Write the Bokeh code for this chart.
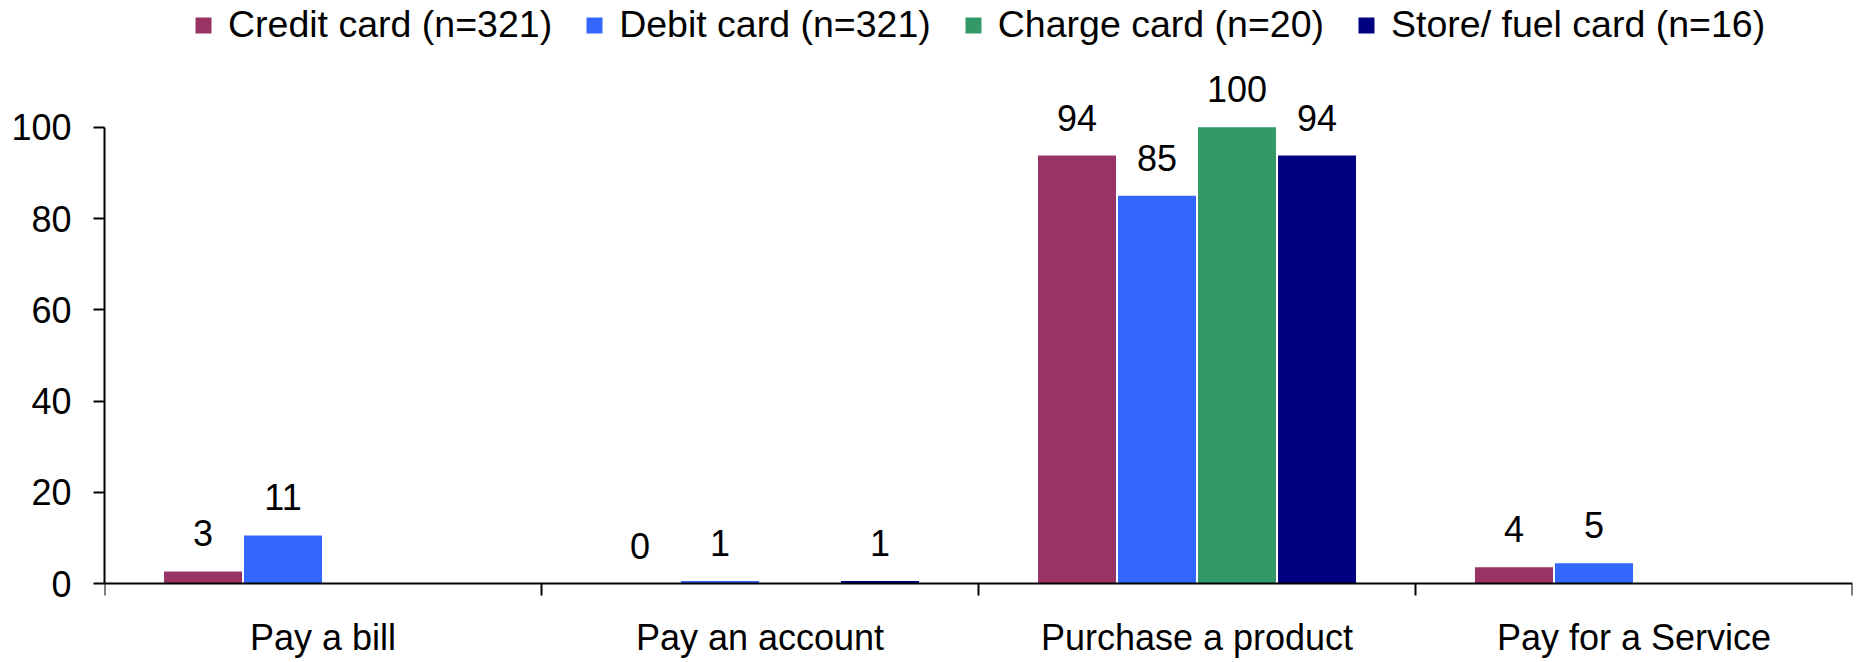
from bokeh.plotting import figure
from bokeh.models import (Range1d, LinearAxis, FixedTicker,
                          ColumnDataSource, Legend, LegendItem)
from bokeh.transform import dodge
from bokeh.core.properties import value
from bokeh.embed import file_html
from bokeh.resources import INLINE

# ---------------- data ----------------
categories = ["Pay a bill", "Pay an account", "Purchase a product", "Pay for a Service"]
series_names = ["Credit card (n=321)", "Debit card (n=321)",
                "Charge card (n=20)", "Store/ fuel card (n=16)"]
credit_card = [2.7, 0.0, 93.8, 3.6]
debit_card = [10.6, 0.6, 85.0, 4.5]
charge_card = [None, None, 100.0, None]
store_fuel_card = [None, 0.6, 93.8, None]
y_ticks = [0, 20, 40, 60, 80, 100]

series_values = [credit_card, debit_card, charge_card, store_fuel_card]
colors = ["#993366", "#3366FF", "#339966", "#000080"]
offsets = [-0.2746, -0.0915, 0.0915, 0.2746]
FONT = "Liberation Sans"

# category slot centres on a numeric axis (one unit per category)
centres = [i + 0.5 for i in range(len(categories))]
bounds = [float(i) for i in range(len(categories) + 1)]

p = figure(x_range=Range1d(0, len(categories)),
           y_range=Range1d(-17.24, 127.75),
           width=1856, height=662,
           output_backend="svg", toolbar_location=None,
           x_axis_location=None,
           min_border_left=104, min_border_right=4,
           min_border_top=0, min_border_bottom=0)
p.outline_line_color = None
p.grid.grid_line_color = None
p.background_fill_color = "white"
p.border_fill_color = "white"

legend_items = []
for name, vals, col, off in zip(series_names, series_values, colors, offsets):
    xs = [c for c, v in zip(centres, vals) if v is not None]
    vs = [v for v in vals if v is not None]
    labs = [str(int(v + 0.5)) for v in vs]
    src = ColumnDataSource(dict(pos=xs, val=vs, lab=labs))
    r = p.vbar(x=dodge("pos", off), top="val", width=0.1785,
               source=src, fill_color=col, line_color=None)
    p.text(x=dodge("pos", off), y="val", text="lab", source=src,
           text_align="center", text_baseline="alphabetic", y_offset=-38,
           text_font=value(FONT), text_font_size="36px", text_color="black")
    legend_items.append(LegendItem(label=name, renderers=[r]))

# y axis
ya = p.yaxis[0]
ya.ticker = FixedTicker(ticks=y_ticks)
ya.bounds = (0, 100)
ya.axis_line_width = 2
ya.axis_line_color = "black"
ya.major_tick_line_width = 2
ya.major_tick_line_color = "black"
ya.major_tick_out = 11
ya.major_tick_in = 0
ya.minor_tick_line_color = None
ya.major_label_standoff = 22
ya.major_label_text_font = FONT
ya.major_label_text_font_size = "36px"
ya.major_label_text_color = "black"

# x axis at y=0: labels at category centres, separator ticks at boundaries
xa = LinearAxis(ticker=FixedTicker(ticks=centres, minor_ticks=bounds),
                major_label_overrides={c: n for c, n in zip(centres, categories)},
                fixed_location=0)
xa.axis_line_width = 2
xa.axis_line_color = "black"
xa.major_tick_line_color = None
xa.major_tick_out = 0
xa.major_tick_in = 0
xa.minor_tick_line_color = "black"
xa.minor_tick_line_width = 2
xa.minor_tick_out = 12
xa.minor_tick_in = 0
xa.major_label_standoff = 21
xa.major_label_text_font = FONT
xa.major_label_text_font_size = "36px"
xa.major_label_text_color = "black"
p.add_layout(xa, "below")

legend = Legend(items=legend_items, orientation="horizontal",
                location=(89, 616),
                glyph_width=20, glyph_height=20, label_standoff=15, spacing=32,
                padding=0, margin=0, label_height=20,
                border_line_color=None, background_fill_alpha=0,
                label_text_font=FONT, label_text_font_size="37.5px",
                label_text_color="black")
p.add_layout(legend)

open("out.html", "w").write(file_html(p, INLINE))
